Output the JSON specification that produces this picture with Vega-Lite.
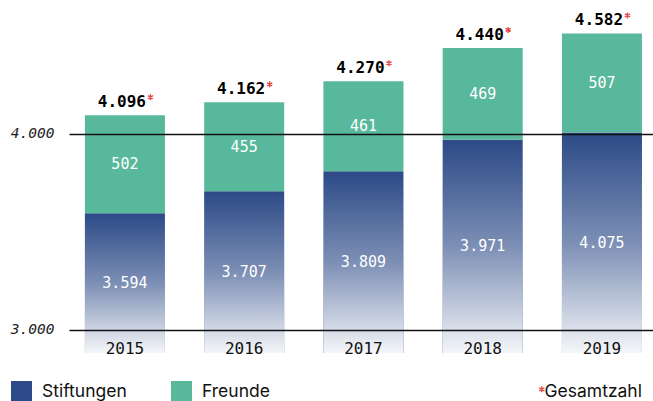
{
  "$schema": "https://vega.github.io/schema/vega-lite/v6.json",
  "autosize": "none",
  "width": 584,
  "height": 353,
  "padding": {"left": 69, "top": 0, "right": 0, "bottom": 48},
  "background": "white",
  "config": {
    "view": {"stroke": null},
    "locale": {"number": {"decimal": ",", "thousands": ".", "grouping": [3], "currency": ["", " €"]}}
  },
  "data": {
    "values": [
      {"jahr": "2015", "stiftungen": 3594, "freunde": 502, "gesamt": 4096, "balken_stiftungen": 3594, "balken_gesamt": 4096},
      {"jahr": "2016", "stiftungen": 3707, "freunde": 455, "gesamt": 4162, "balken_stiftungen": 3707, "balken_gesamt": 4162},
      {"jahr": "2017", "stiftungen": 3809, "freunde": 461, "gesamt": 4270, "balken_stiftungen": 3809, "balken_gesamt": 4270},
      {"jahr": "2018", "stiftungen": 3971, "freunde": 469, "gesamt": 4440, "balken_stiftungen": 3971, "balken_gesamt": 4440},
      {"jahr": "2019", "stiftungen": 4075, "freunde": 507, "gesamt": 4582, "balken_stiftungen": 4007, "balken_gesamt": 4514}
    ]
  },
  "layer": [
    {
      "layer": [
        {
          "mark": {"type": "bar"},
          "encoding": {
            "x": {"field": "jahr", "type": "nominal", "axis": null, "scale": {"paddingInner": 0.329, "paddingOuter": 0.113, "align": 0.59}},
            "y": {
              "field": "balken_stiftungen", "type": "quantitative",
              "scale": {"domain": [2880, 4685], "nice": false, "zero": false},
              "axis": {
                "values": [3000, 4000], "format": ",d", "title": null,
                "labelFont": "DejaVu Sans Mono", "labelFontStyle": "italic", "labelFontSize": 14.5, "labelColor": "#222",
                "labelPadding": 15, "ticks": false, "domain": false,
                "grid": true, "gridColor": "#111", "gridWidth": 1.5, "gridOpacity": 1, "zindex": 1
              }
            },
            "y2": {"datum": 2880},
            "color": {
              "datum": "Stiftungen", "type": "nominal",
              "scale": {"domain": ["Stiftungen", "Freunde"], "range": ["#2c4a87", "#58b89c"]},
              "legend": {
                "orient": "none", "legendX": -58, "legendY": 381, "direction": "horizontal", "title": null,
                "symbolType": "square", "symbolSize": 441, "symbolStrokeWidth": 0, "symbolOpacity": 1,
                "labelFont": "Inter", "labelFontSize": 17.5, "labelColor": "#111", "labelOffset": 10,
                "columnPadding": 44, "padding": 0
              }
            }
          }
        },
        {
          "mark": {"type": "bar"},
          "encoding": {
            "x": {"field": "jahr", "type": "nominal"},
            "y": {"field": "balken_gesamt", "type": "quantitative"},
            "y2": {"field": "balken_stiftungen"},
            "color": {"datum": "Freunde", "type": "nominal"}
          }
        },
        {
          "mark": {
            "type": "bar",
            "fill": {
              "gradient": "linear", "x1": 0, "y1": 0, "x2": 0, "y2": 1,
              "stops": [
                {"offset": 0, "color": "rgba(255,255,255,0)"},
                {"offset": 0.5, "color": "rgba(255,255,255,0.38)"},
                {"offset": 1, "color": "rgba(255,255,255,0.95)"}
              ]
            }
          },
          "encoding": {
            "x": {"field": "jahr", "type": "nominal"},
            "y": {"field": "balken_stiftungen", "type": "quantitative"},
            "y2": {"datum": 2880}
          }
        },
        {
          "transform": [{"fold": ["balken_stiftungen", "balken_gesamt"], "as": ["teil", "wert"]}],
          "mark": {"type": "text", "font": "DejaVu Sans Mono", "fontSize": 15, "color": "white", "baseline": "middle"},
          "encoding": {
            "x": {"field": "jahr", "type": "nominal"},
            "y": {"aggregate": "mean", "field": "wert", "type": "quantitative"},
            "text": {"field": "freunde", "type": "quantitative", "format": ",d"}
          }
        },
        {
          "mark": {"type": "text", "font": "DejaVu Sans Mono", "fontSize": 16, "fontWeight": "bold", "color": "#000", "baseline": "alphabetic", "dy": -8, "dx": -3},
          "encoding": {
            "x": {"field": "jahr", "type": "nominal"},
            "y": {"field": "balken_gesamt", "type": "quantitative"},
            "text": {"field": "gesamt", "type": "quantitative", "format": ",d"}
          }
        },
        {
          "mark": {"type": "point", "filled": false, "stroke": "#e84b47", "strokeWidth": 1.4, "size": 36, "opacity": 1, "xOffset": 25.5, "yOffset": -15.6},
          "encoding": {
            "x": {"field": "jahr", "type": "nominal"},
            "y": {"field": "balken_gesamt", "type": "quantitative"},
            "shape": {
              "datum": "Gesamtzahl", "type": "nominal",
              "scale": {"domain": ["Gesamtzahl"], "range": ["M0,-1.8L0,0.2M-0.87,-1.3L0.87,-0.3M-0.87,-0.3L0.87,-1.3"]},
              "legend": {
                "orient": "none", "legendX": 464, "legendY": 383, "title": null,
                "symbolSize": 36, "symbolStrokeColor": "#e84b47", "symbolStrokeWidth": 1.4, "symbolFillColor": "transparent",
                "labelOffset": -6, "labelFont": "Inter", "labelFontSize": 17.5, "labelColor": "#111", "padding": 0
              }
            }
          }
        },
        {
          "mark": {"type": "text", "font": "DejaVu Sans Mono", "fontSize": 16, "color": "#111", "baseline": "middle"},
          "encoding": {
            "x": {"field": "jahr", "type": "nominal"},
            "y": {"datum": 2898, "type": "quantitative"},
            "text": {"field": "jahr", "type": "nominal"}
          }
        }
      ]
    },
    {
      "mark": {"type": "text", "font": "DejaVu Sans Mono", "fontSize": 15, "color": "white", "baseline": "middle"},
      "encoding": {
        "x": {"field": "jahr", "type": "nominal"},
        "y": {"field": "balken_stiftungen", "type": "quantitative", "scale": {"domain": [2880, 6490], "nice": false, "zero": false}, "axis": null},
        "text": {"field": "stiftungen", "type": "quantitative", "format": ",d"}
      }
    }
  ],
  "resolve": {"scale": {"y": "independent"}}
}
